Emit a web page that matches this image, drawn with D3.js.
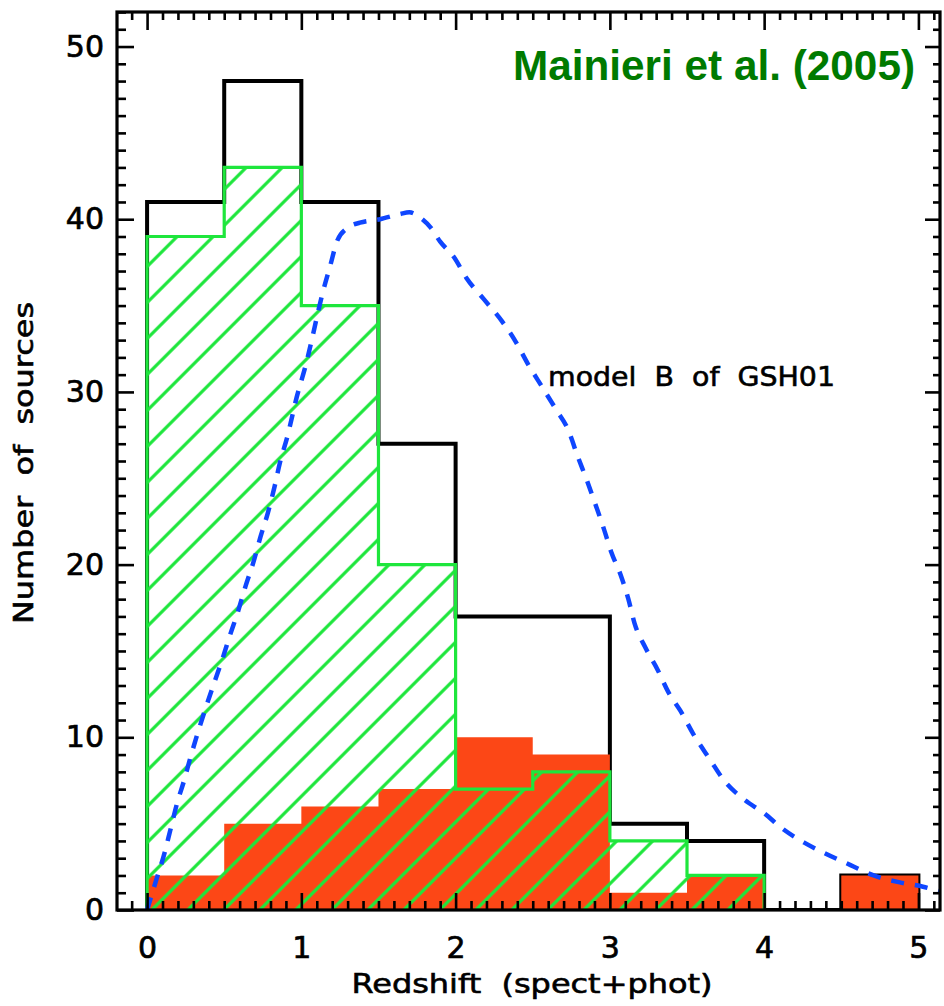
<!DOCTYPE html>
<html>
<head>
<meta charset="utf-8">
<script src="https://cdn.jsdelivr.net/npm/d3@7"></script>
<style>
  html, body { margin: 0; padding: 0; background: #fff; }
  svg { display: block; }
  text { white-space: pre; }
</style>
</head>
<body>
<svg id="chart" width="944" height="1006"></svg>
<script>
// ---------- data ----------
const binEdges = [0, 0.5, 1, 1.5, 2, 2.5, 3, 3.5, 4, 4.5, 5];
const totalCounts   = [41, 48, 41, 27, 17, 17, 5, 4, 0, 2];
const hatchedCounts = [39, 43, 35, 20, 7, 8, 4, 2, 0, 0];
const redCounts     = [2, 5, 6, 7, 10, 9, 1, 2, 0, 2];

const modelZ = [0, 0.065, 0.107, 0.15, 0.195, 0.24, 0.28, 0.33, 0.38, 0.433, 0.487, 0.537, 0.59, 0.64,
  0.688, 0.735, 0.783, 0.826, 0.861, 0.909, 0.97, 1.03, 1.07, 1.11, 1.14, 1.19, 1.23, 1.30, 1.38,
  1.51, 1.64, 1.70, 1.77, 1.84, 1.90, 1.99, 2.07, 2.18, 2.30, 2.39, 2.47, 2.56, 2.65, 2.73, 2.79,
  2.85, 2.91, 2.96, 3.01, 3.07, 3.12, 3.16, 3.23, 3.31, 3.38, 3.46, 3.54, 3.65, 3.74, 3.87, 4.0,
  4.12, 4.26, 4.39, 4.56, 4.71, 4.88, 5.03, 5.15];
const modelN = [0, 1.9, 3.1, 4.6, 6.2, 7.5, 8.8, 10.3, 11.7, 13.1, 14.5, 15.9, 17.3, 18.8,
  20.1, 21.6, 23.0, 24.5, 25.9, 27.4, 29.7, 31.6, 33.1, 34.7, 35.8, 37.4, 38.7, 39.5, 39.8,
  40.0, 40.3, 40.4, 40.1, 39.5, 38.7, 37.8, 36.6, 35.4, 34.1, 32.9, 31.6, 30.3, 29.0, 27.8, 26.3,
  24.9, 23.4, 22.1, 20.7, 19.4, 18.0, 16.6, 15.2, 13.9, 12.6, 11.5, 10.2, 8.7, 7.5, 6.4, 5.6,
  4.7, 3.9, 3.3, 2.6, 2.0, 1.6, 1.35, 1.05];

const xTicks = [0, 1, 2, 3, 4, 5];
const yTicks = [0, 10, 20, 30, 40, 50];
const xTitle = "Redshift  (spect+phot)";
const yTitle = "Number  of  sources";
const modelLabel = "model  B  of  GSH01";
const refLabel = "Mainieri et al. (2005)";

// ---------- layout ----------
const L = 117, R = 940, T = 12, B = 910;
const x = d3.scaleLinear().domain([-0.195, 5.14]).range([L, R]);
const y = d3.scaleLinear().domain([0, 52]).range([B, T]);

const svg = d3.select("#chart");
const defs = svg.append("defs");

defs.append("clipPath").attr("id", "plotClip")
  .append("rect").attr("x", L).attr("y", T).attr("width", R - L).attr("height", B - T);

const hatchSp = 36;
const pat = defs.append("pattern").attr("id", "hatch")
  .attr("patternUnits", "userSpaceOnUse")
  .attr("x", 17.7).attr("y", 0)
  .attr("width", hatchSp).attr("height", hatchSp);
pat.append("path")
  .attr("d", `M0,${hatchSp} L${hatchSp},0 M${-hatchSp/2},${hatchSp/2} L${hatchSp/2},${-hatchSp/2} M${hatchSp/2},${hatchSp*1.5} L${hatchSp*1.5},${hatchSp/2}`)
  .attr("stroke", "#1ee63c").attr("stroke-width", 3.2).attr("fill", "none");

function stepPoints(counts) {
  const pts = [];
  counts.forEach((c, i) => { pts.push([binEdges[i], c]); pts.push([binEdges[i + 1], c]); });
  return pts;
}
function trimmedStep(counts) {
  let last = counts.length - 1;
  while (last > 0 && counts[last] === 0) last--;
  const pts = [[binEdges[0], 0]];
  for (let i = 0; i <= last; i++) { pts.push([binEdges[i], counts[i]]); pts.push([binEdges[i + 1], counts[i]]); }
  pts.push([binEdges[last + 1], 0]);
  return pts;
}
const line = d3.line().x(d => x(d[0])).y(d => y(d[1]));
const area = d3.area().x(d => x(d[0])).y0(y(0)).y1(d => y(d[1]));

const plot = svg.append("g").attr("clip-path", "url(#plotClip)");

// total histogram (black outline)
plot.append("path").attr("d", line(trimmedStep(totalCounts)))
  .attr("fill", "none").attr("stroke", "#000").attr("stroke-width", 4)
  .attr("stroke-linejoin", "miter");

// red filled histogram
plot.append("path").attr("d", area(stepPoints(redCounts)))
  .attr("fill", "#fc4716").attr("stroke", "none");

// hatched histogram
const hatchPts = trimmedStep(hatchedCounts);
plot.append("path").attr("d", line(hatchPts) + "Z").attr("fill", "url(#hatch)").attr("stroke", "none");
plot.append("path").attr("d", line(hatchPts))
  .attr("fill", "none").attr("stroke", "#1ee63c").attr("stroke-width", 3.2);

// model curve
const modelData = modelZ.map((z, i) => [z, modelN[i]]);
plot.append("path").attr("d", d3.line().x(d => x(d[0])).y(d => y(d[1])).curve(d3.curveMonotoneX)(modelData))
  .attr("fill", "none").attr("stroke", "#0f46ff").attr("stroke-width", 4.5)
  .attr("stroke-dasharray", "13,11");

// ---------- axes ----------
const xMinor = d3.range(-1, 52).map(i => i / 10).filter(v => v >= -0.195 && v <= 5.14 && Math.abs(Math.round(v) - v) > 1e-6);
const yMinor = d3.range(0, 53).filter(v => v % 10 !== 0);

function styleAxis(g) {
  g.select(".domain").remove();
  g.selectAll(".tick line").attr("stroke", "#000").attr("stroke-width", 2.6);
  g.selectAll(".tick text").attr("fill", "#000").attr("stroke", "#000").attr("stroke-width", 0.7)
    .style("font-family", "'DejaVu Sans', sans-serif").style("font-size", "30px");
}

// bottom
svg.append("g").attr("transform", `translate(0,${B})`)
  .call(d3.axisBottom(x).tickValues(xTicks).tickSize(-17).tickPadding(27).tickFormat(d3.format("d")))
  .call(styleAxis);
svg.append("g").attr("transform", `translate(0,${B})`)
  .call(d3.axisBottom(x).tickValues(xMinor).tickSize(-9).tickFormat(""))
  .call(styleAxis);
// top
svg.append("g").attr("transform", `translate(0,${T})`)
  .call(d3.axisTop(x).tickValues(xTicks).tickSize(-18).tickFormat(""))
  .call(styleAxis);
svg.append("g").attr("transform", `translate(0,${T})`)
  .call(d3.axisTop(x).tickValues(xMinor).tickSize(-8).tickFormat(""))
  .call(styleAxis);
// left
svg.append("g").attr("transform", `translate(${L},0)`)
  .call(d3.axisLeft(y).tickValues(yTicks).tickSize(-17).tickPadding(13).tickFormat(d3.format("d")))
  .call(styleAxis);
svg.append("g").attr("transform", `translate(${L},0)`)
  .call(d3.axisLeft(y).tickValues(yMinor).tickSize(-9).tickFormat(""))
  .call(styleAxis);
// right
svg.append("g").attr("transform", `translate(${R},0)`)
  .call(d3.axisRight(y).tickValues(yTicks).tickSize(-15).tickFormat(""))
  .call(styleAxis);
svg.append("g").attr("transform", `translate(${R},0)`)
  .call(d3.axisRight(y).tickValues(yMinor).tickSize(-7).tickFormat(""))
  .call(styleAxis);

// frame
svg.append("rect").attr("x", L).attr("y", T).attr("width", R - L).attr("height", B - T)
  .attr("fill", "none").attr("stroke", "#000").attr("stroke-width", 3.2);

// ---------- texts ----------
const txtFont = "'DejaVu Sans', sans-serif";
svg.append("text").text(xTitle)
  .attr("x", 532).attr("y", 993).attr("text-anchor", "middle")
  .attr("textLength", 361).attr("lengthAdjust", "spacingAndGlyphs")
  .attr("stroke", "#000").attr("stroke-width", 0.6)
  .style("font-family", txtFont).style("font-size", "27px").attr("fill", "#000");

svg.append("text").text(yTitle)
  .attr("transform", "translate(33,463) rotate(-90)").attr("text-anchor", "middle")
  .attr("textLength", 322).attr("lengthAdjust", "spacingAndGlyphs")
  .attr("stroke", "#000").attr("stroke-width", 0.6)
  .style("font-family", txtFont).style("font-size", "27px").attr("fill", "#000");

svg.append("text").text(modelLabel)
  .attr("x", 548).attr("y", 386)
  .attr("textLength", 287).attr("lengthAdjust", "spacingAndGlyphs")
  .attr("stroke", "#000").attr("stroke-width", 0.6)
  .style("font-family", txtFont).style("font-size", "27px").attr("fill", "#000");

svg.append("text").text(refLabel)
  .attr("x", 513).attr("y", 80)
  .attr("textLength", 402).attr("lengthAdjust", "spacingAndGlyphs")
  .style("font-family", "'Liberation Sans', Arial, sans-serif").style("font-weight", "bold")
  .style("font-size", "42px").attr("fill", "#007a00");
</script>
</body>
</html>
